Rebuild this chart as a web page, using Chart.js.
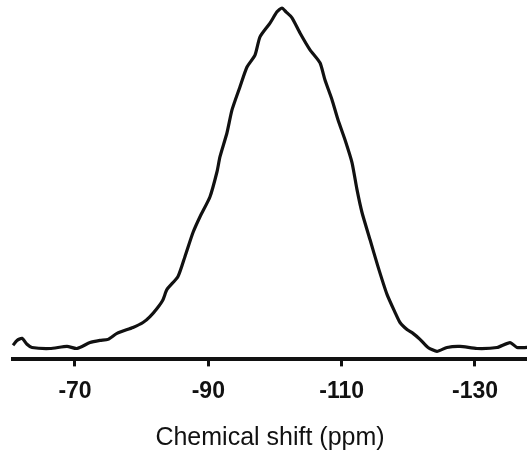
<!DOCTYPE html>
<html>
<head>
<meta charset="utf-8">
<script src="https://cdn.jsdelivr.net/npm/chart.js@4.4.1/dist/chart.umd.min.js"></script>
<style>
  html, body { margin: 0; padding: 0; background: #fff; }
  #wrap { width: 527px; height: 454px; }
</style>
</head>
<body>
<div id="wrap"><canvas id="nmr"></canvas></div>
<script>
// 29Si spectrum (intensity in arbitrary units, peak = 100)
const shiftPpm = [
  -60.7, -61.3, -62.05, -62.8, -63.55, -66.25, -68.8, -70.3, -72.25, -73.75,
  -74.95, -76.3, -78.7, -80.2, -81.25, -82.3, -83.2, -83.8, -85.45, -86.5,
  -87.7, -88.75, -90.25, -91.3, -91.75, -92.8, -93.55, -94.75, -95.8, -97.0,
  -97.75, -99.25, -100.3, -101.05, -101.65, -102.55, -103.75, -105.25, -106.75, -107.5,
  -108.55, -109.45, -110.5, -111.55, -112.3, -113.05, -114.25, -115.45, -116.8, -118.0,
  -118.75, -119.8, -120.7, -121.75, -122.95, -124.3, -125.8, -127.75, -130.3, -133.3,
  -135.25, -136.3, -137.8
];
const intensity = [
  4.0, 5.4, 6.0, 4.3, 3.4, 3.1, 3.7, 3.1, 4.8, 5.4,
  5.7, 7.4, 9.1, 10.5, 12.2, 14.5, 17.0, 19.9, 23.6, 29.3,
  36.1, 40.6, 46.3, 53.4, 57.7, 64.5, 71.0, 77.6, 83.2, 86.6,
  91.8, 95.7, 98.9, 100, 98.9, 97.2, 92.9, 88.1, 84.4, 79.5,
  73.9, 68.2, 62.5, 56.0, 48.3, 41.8, 34.1, 26.4, 18.5, 13.4,
  10.5, 8.5, 7.4, 5.7, 3.4, 2.3, 3.4, 3.7, 3.1, 3.4,
  4.8, 3.4, 3.4
];
const tickValues = [-70, -90, -110, -130];

const points = shiftPpm.map((x, i) => ({ x: x, y: intensity[i] }));

new Chart(document.getElementById('nmr'), {
  type: 'line',
  data: {
    datasets: [{
      data: points,
      borderColor: '#111',
      borderWidth: 3.2,
      pointRadius: 0,
      tension: 0.2,
      fill: false,
      clip: false
    }]
  },
  options: {
    responsive: true,
    maintainAspectRatio: false,
    animation: false,
    layout: { padding: { left: 13, right: 0, top: 8, bottom: 3 } },
    plugins: { legend: { display: false }, tooltip: { enabled: false } },
    scales: {
      x: {
        type: 'linear',
        reverse: true,
        min: -137.8,
        max: -60.7,
        afterBuildTicks: (scale) => {
          scale.ticks = tickValues.map(v => ({ value: v }));
        },
        border: { display: true, color: '#111', width: 4 },
        grid: {
          drawOnChartArea: false,
          drawTicks: true,
          tickLength: 7,
          color: '#111',
          lineWidth: 3
        },
        ticks: {
          color: '#111',
          padding: 11,
          maxRotation: 0,
          font: { family: 'Liberation Sans, Arial, sans-serif', size: 23, weight: 'bold' },
          callback: (v) => String(v)
        },
        title: {
          display: true,
          text: 'Chemical shift (ppm)',
          color: '#111',
          padding: { top: 10, bottom: 0 },
          font: { family: 'Liberation Sans, Arial, sans-serif', size: 25, lineHeight: 1 }
        }
      },
      y: {
        display: false,
        min: 0,
        max: 100
      }
    }
  }
});
</script>
</body>
</html>
